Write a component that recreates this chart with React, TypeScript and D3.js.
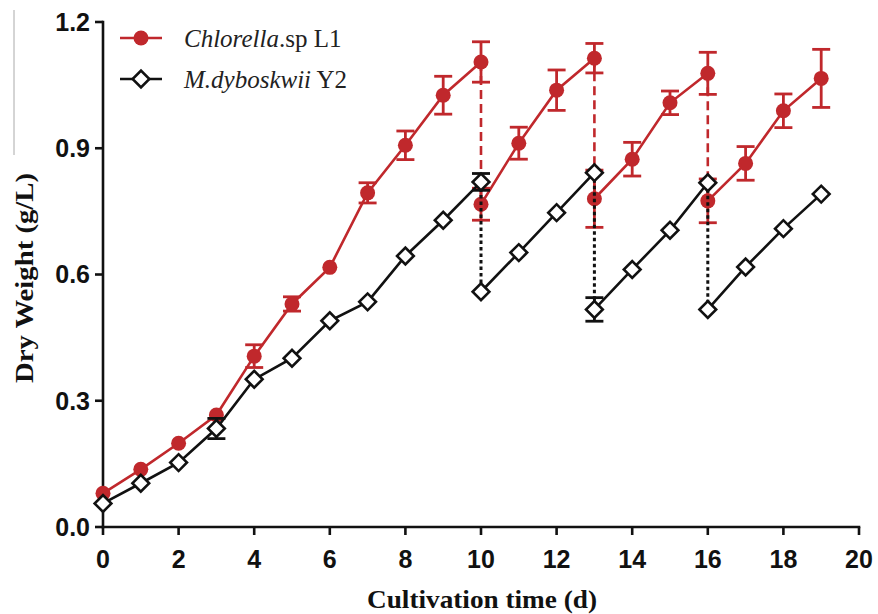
import React from 'react';
import * as d3 from 'd3';

// ---- data ----
const xTicks = [0, 2, 4, 6, 8, 10, 12, 14, 16, 18, 20];
const yTicks = [0, 0.3, 0.6, 0.9, 1.2];
const batchDays = [
  [0, 1, 2, 3, 4, 5, 6, 7, 8, 9, 10],
  [10, 11, 12, 13],
  [13, 14, 15, 16],
  [16, 17, 18, 19],
];
const chlorellaMean = [
  [0.080, 0.137, 0.199, 0.266, 0.406, 0.530, 0.617, 0.794, 0.907, 1.026, 1.105],
  [0.767, 0.912, 1.038, 1.114],
  [0.780, 0.874, 1.008, 1.078],
  [0.775, 0.864, 0.989, 1.066],
];
const chlorellaErr = [
  [0, 0, 0, 0, 0.027, 0.017, 0, 0.024, 0.034, 0.045, 0.048],
  [0.038, 0.038, 0.048, 0.035],
  [0.068, 0.040, 0.028, 0.050],
  [0.052, 0.040, 0.040, 0.069],
];
const dyboskwiiMean = [
  [0.056, 0.104, 0.153, 0.234, 0.351, 0.401, 0.490, 0.535, 0.644, 0.729, 0.820],
  [0.559, 0.652, 0.747, 0.842],
  [0.517, 0.612, 0.705, 0.818],
  [0.517, 0.618, 0.709, 0.791],
];
const dyboskwiiErr = [
  [0, 0, 0, 0.024, 0, 0, 0, 0, 0, 0, 0.02],
  [0, 0, 0, 0],
  [0.028, 0, 0, 0],
  [0, 0, 0, 0],
];

const RED = '#c0282c';
const BLACK = '#111';

const x = d3.scaleLinear().domain([0, 20]).range([103, 859]);
const y = d3.scaleLinear().domain([0, 1.2]).range([527, 22]);

const lineGen = d3.line<[number, number]>().x((d) => x(d[0])).y((d) => y(d[1]));
const diamond = d3.symbol().type(d3.symbolSquare).size(140)();
const fmt = d3.format('.1f');

function Series({ means, errs, color, marker, transferDash }: any) {
  const pts: { d: number; v: number; e: number }[] = [];
  batchDays.forEach((ds, b) => ds.forEach((d, i) => pts.push({ d, v: means[b][i], e: errs[b][i] })));
  return (
    <g>
      {batchDays.map((ds, b) => (
        <path key={'l' + b} d={lineGen(ds.map((d, i) => [d, means[b][i]]) as any) || ''}
          fill="none" stroke={color} strokeWidth={2.6} />
      ))}
      {batchDays.slice(0, -1).map((ds, b) => {
        const d = ds[ds.length - 1];
        return (
          <line key={'t' + b} x1={x(d)} x2={x(d)} y1={y(means[b][ds.length - 1])} y2={y(means[b + 1][0])}
            stroke={color} strokeWidth={transferDash === 'dash' ? 2.6 : 3}
            strokeDasharray={transferDash === 'dash' ? '9,5' : '3.5,3'} />
        );
      })}
      {pts.filter((p) => p.e > 0).map((p, i) => (
        <g key={'e' + i} stroke={color} strokeWidth={2.8}>
          <line x1={x(p.d)} x2={x(p.d)} y1={y(p.v - p.e)} y2={y(p.v + p.e)} />
          <line x1={x(p.d) - 9} x2={x(p.d) + 9} y1={y(p.v - p.e)} y2={y(p.v - p.e)} />
          <line x1={x(p.d) - 9} x2={x(p.d) + 9} y1={y(p.v + p.e)} y2={y(p.v + p.e)} />
        </g>
      ))}
      {pts.map((p, i) =>
        marker === 'circle' ? (
          <circle key={'m' + i} cx={x(p.d)} cy={y(p.v)} r={7.5} fill={color} />
        ) : (
          <path key={'m' + i} d={diamond || ''} transform={`translate(${x(p.d)},${y(p.v)}) rotate(45)`}
            fill="white" stroke={color} strokeWidth={2.6} />
        )
      )}
    </g>
  );
}

export default function App() {
  return (
    <svg width={878} height={614} style={{ position: 'absolute', left: 0, top: 0, background: 'white' }}>
      <line x1={14} x2={14} y1={10} y2={155} stroke="#aaa" strokeWidth={1} />
      {/* axes */}
      <g stroke={BLACK} strokeWidth={2.6}>
        <line x1={x(0)} x2={x(0)} y1={y(1.2) - 1.3} y2={y(0) + 1.3} />
        <line x1={x(0) - 1.3} x2={x(20) + 1.3} y1={y(0)} y2={y(0)} />
        {yTicks.map((t) => (
          <line key={'yt' + t} x1={x(0) - 8} x2={x(0)} y1={y(t)} y2={y(t)} />
        ))}
        {xTicks.map((t) => (
          <line key={'xt' + t} x1={x(t)} x2={x(t)} y1={y(0)} y2={y(0) + 8} />
        ))}
      </g>
      <g fontFamily="'Liberation Sans', Arial, sans-serif" fontWeight="bold" fontSize={25} fill={BLACK}>
        {yTicks.map((t) => (
          <text key={'yl' + t} x={x(0) - 13} y={y(t)} dy="0.35em" textAnchor="end">{fmt(t)}</text>
        ))}
        {xTicks.map((t) => (
          <text key={'xl' + t} x={x(t)} y={568} textAnchor="middle">{t}</text>
        ))}
      </g>
      <text x={482} y={608} textAnchor="middle" fontFamily="'Liberation Serif', 'Times New Roman', serif"
        fontWeight="bold" fontSize={25} fill={BLACK} textLength={230} lengthAdjust="spacingAndGlyphs">Cultivation time (d)</text>
      <text transform="translate(33,278) rotate(-90)" textAnchor="middle"
        fontFamily="'Liberation Serif', 'Times New Roman', serif" fontWeight="bold" fontSize={25} fill={BLACK}
        textLength={210} lengthAdjust="spacingAndGlyphs">
        Dry Weight (g/L)
      </text>

      <Series means={chlorellaMean} errs={chlorellaErr} color={RED} marker="circle" transferDash="dash" />
      <Series means={dyboskwiiMean} errs={dyboskwiiErr} color={BLACK} marker="diamond" transferDash="dot" />

      {/* legend */}
      <g fontFamily="'Liberation Serif', 'Times New Roman', serif" fontSize={25} fill="#222">
        <line x1={120} x2={162} y1={38} y2={38} stroke={RED} strokeWidth={2.6} />
        <circle cx={141} cy={38} r={7.5} fill={RED} />
        <text x={184} y={47}><tspan fontStyle="italic">Chlorella</tspan>.sp L1</text>
        <line x1={120} x2={162} y1={79} y2={79} stroke={BLACK} strokeWidth={2.6} />
        <path d={diamond || ''} transform="translate(141,79) rotate(45)" fill="white" stroke={BLACK} strokeWidth={2.6} />
        <text x={184} y={88}><tspan fontStyle="italic">M.dyboskwii</tspan> Y2</text>
      </g>
    </svg>
  );
}
